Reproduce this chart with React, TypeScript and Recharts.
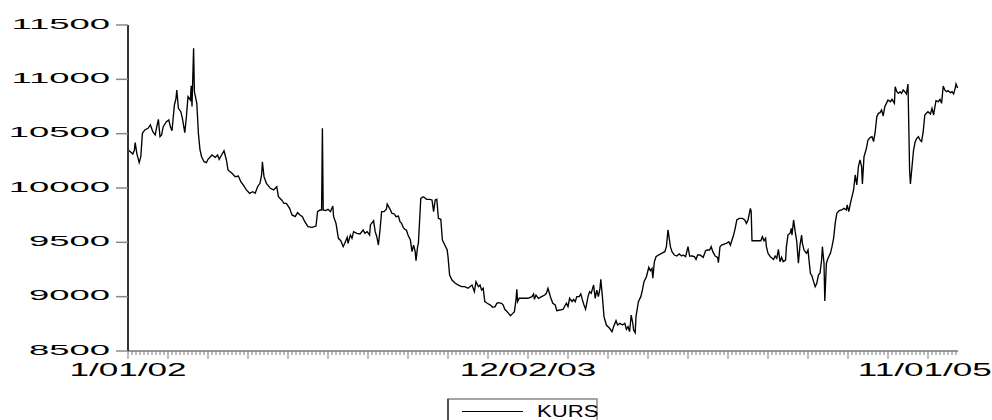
import React from 'react';
import { LineChart, Line, XAxis, YAxis } from 'recharts';

// Daily exchange rate (KURS), indexed by trading day counted from 1/01/02.
const kurs2002: [number, number][] = [
  [0, 10350], [3, 10334], [6, 10313], [8, 10350], [9, 10417], [11, 10319], [14, 10233], [16, 10288],
  [18, 10503], [21, 10534], [25, 10549], [28, 10580], [31, 10518], [34, 10488], [36, 10564], [38, 10632],
  [40, 10472], [42, 10488], [44, 10564], [48, 10610], [51, 10626], [53, 10564], [55, 10527], [58, 10764],
  [60, 10825], [61, 10902], [63, 10733], [66, 10702], [68, 10641], [71, 10509], [73, 10656], [75, 10840],
  [78, 10810], [79, 10940], [80, 10750], [82, 11285], [83, 10886], [86, 10780], [88, 10503], [90, 10350],
  [92, 10288], [95, 10242], [98, 10233], [100, 10264], [105, 10304], [109, 10282], [112, 10304], [114, 10264],
  [117, 10304], [120, 10343], [123, 10258], [125, 10166], [130, 10135], [134, 10104], [138, 10110], [141, 10058],
  [144, 10028], [148, 9982], [152, 9951], [156, 9966], [159, 9951], [162, 10012], [165, 10043], [167, 10120],
  [168, 10242], [170, 10104], [173, 10043], [178, 9997], [182, 9982], [186, 10012], [188, 9920], [192, 9890],
  [195, 9859], [198, 9859], [202, 9813], [205, 9752], [209, 9736], [212, 9773], [215, 9752], [218, 9736],
  [221, 9690], [225, 9644], [230, 9638], [235, 9650], [237, 9782], [240, 9798], [242, 9798], [243, 10549],
  [244, 9798], [247, 9792], [250, 9804], [253, 9782], [256, 9834], [257, 9736], [260, 9675],
];

const kurs2003: [number, number][] = [
  [263, 9537], [266, 9515], [269, 9460], [271, 9491], [274, 9546], [275, 9491], [278, 9567], [280, 9537],
  [282, 9598], [286, 9583], [290, 9577], [294, 9613], [296, 9583], [299, 9598], [302, 9567], [303, 9660],
  [307, 9699], [309, 9598], [311, 9552], [313, 9475], [315, 9613], [317, 9782], [320, 9782], [323, 9804],
  [324, 9853], [327, 9813], [330, 9767], [333, 9761], [335, 9736], [338, 9742], [340, 9690], [342, 9675],
  [344, 9638], [346, 9620], [348, 9613], [350, 9567], [353, 9521], [355, 9414], [357, 9475], [359, 9414],
  [360, 9331], [362, 9460], [363, 9491], [365, 9767], [366, 9905], [369, 9920], [371, 9911], [373, 9896],
  [377, 9896], [380, 9890], [382, 9782], [384, 9890], [386, 9896], [388, 9721], [391, 9712], [393, 9521],
  [396, 9475], [399, 9429], [400, 9368], [402, 9199], [405, 9153], [409, 9123], [413, 9107], [417, 9092],
  [421, 9092], [425, 9077], [430, 9107], [433, 9046], [435, 9138], [438, 9092], [440, 9107], [442, 9061],
  [444, 9077], [446, 8954], [449, 8939], [453, 8923], [456, 8902], [459, 8908], [461, 8939], [463, 8945],
  [467, 8939], [469, 8923], [471, 8884], [475, 8853], [478, 8825], [481, 8846], [483, 8862], [485, 8970],
  [486, 9068], [487, 8954], [489, 8985], [492, 8985], [496, 8985], [500, 8985], [505, 9000], [507, 9025],
  [508, 8975], [510, 9015], [513, 8985], [517, 9000],
];

const kurs2004: [number, number][] = [
  [521, 9015], [523, 9031], [525, 9077], [528, 9000], [531, 8939], [534, 8923], [536, 8871], [540, 8877],
  [544, 8884], [546, 8914], [548, 8939], [550, 8908], [552, 8985], [555, 8954], [557, 8975], [559, 8954],
  [561, 9000], [564, 9000], [566, 9025], [568, 8970], [570, 8923], [572, 8884], [575, 9000], [577, 9046],
  [579, 9031], [582, 9107], [584, 8985], [586, 9061], [588, 9000], [590, 9077], [591, 9160], [593, 9000],
  [595, 8816], [598, 8739], [602, 8709], [605, 8678], [607, 8724], [610, 8779], [612, 8739], [615, 8755],
  [618, 8739], [621, 8755], [623, 8700], [625, 8724], [627, 8678], [629, 8831], [631, 8755], [632, 8694],
  [634, 8668], [635, 8816], [638, 8954], [641, 9000], [643, 9061], [645, 9138], [648, 9184], [651, 9270],
  [653, 9239], [655, 9260], [656, 9169], [658, 9322], [660, 9368], [663, 9383], [667, 9399], [671, 9414],
  [673, 9460], [675, 9614], [678, 9460], [680, 9414], [683, 9383], [686, 9374], [689, 9393], [692, 9374],
  [694, 9383], [697, 9368], [700, 9460], [702, 9374], [705, 9374], [708, 9368], [710, 9343], [712, 9383],
  [715, 9383], [719, 9362], [722, 9423], [724, 9429], [727, 9429], [729, 9460], [731, 9414], [734, 9374],
  [737, 9362], [738, 9312], [740, 9460], [742, 9475], [745, 9484], [748, 9491], [751, 9506], [753, 9475],
  [755, 9521], [757, 9567], [759, 9629], [761, 9706], [764, 9721], [768, 9721], [771, 9706], [773, 9675],
  [775, 9706], [778, 9813], [779, 9782], [780, 9515],
];

const kurs2005: [number, number][] = [
  [784, 9515], [788, 9515], [791, 9515], [793, 9552], [795, 9515], [797, 9537], [798, 9460], [800, 9399],
  [803, 9368], [807, 9343], [809, 9374], [811, 9353], [813, 9436], [815, 9322], [817, 9362], [819, 9322],
  [822, 9337], [823, 9460], [825, 9567], [828, 9589], [829, 9629], [830, 9567], [832, 9706], [834, 9598],
  [836, 9506], [838, 9307], [840, 9475], [842, 9567], [843, 9491], [845, 9429], [848, 9399], [850, 9429],
  [851, 9353], [853, 9215], [855, 9190], [857, 9138], [859, 9092], [861, 9123], [863, 9199], [865, 9215],
  [867, 9337], [868, 9460], [870, 9307], [871, 8960], [873, 9307], [875, 9353], [878, 9399], [880, 9460],
  [882, 9537], [884, 9675], [886, 9767], [889, 9792], [892, 9798], [895, 9813], [898, 9798], [899, 9844],
  [901, 9782], [903, 9859], [905, 9920], [907, 9982], [909, 10120], [911, 10028], [913, 10196], [915, 10258],
  [917, 10196], [918, 10037], [920, 10288], [923, 10365], [925, 10442], [928, 10466], [930, 10472], [932, 10427],
  [934, 10518], [936, 10656], [938, 10687], [940, 10693], [942, 10718], [944, 10663], [946, 10748], [948, 10779],
  [950, 10810], [953, 10794], [955, 10816], [958, 10779], [959, 10932], [961, 10886], [963, 10871], [965, 10886],
  [967, 10871], [969, 10902], [971, 10886], [973, 10865], [975, 10957], [976, 10564], [977, 10166], [978, 10037],
  [980, 10196], [982, 10350], [984, 10427], [986, 10457], [988, 10472], [990, 10442], [992, 10427], [994, 10518],
  [996, 10672], [998, 10687], [1000, 10702], [1003, 10681], [1005, 10733], [1007, 10672], [1008, 10718], [1010, 10804],
  [1013, 10794], [1015, 10816], [1017, 10779], [1019, 10939], [1021, 10902], [1023, 10886], [1025, 10896], [1028, 10877],
  [1030, 10886], [1032, 10865], [1034, 10917], [1035, 10957], [1037, 10920],
];

const seriesName = 'KURS';
const yTicks = [8500, 9000, 9500, 10000, 10500, 11000, 11500];
const dateLabels = ['1/01/02', '12/02/03', '11/01/05'];
const dateLabelDays = [0, 500, 996];
const lastDay = 1037.5;

const data = [...kurs2002, ...kurs2003, ...kurs2004, ...kurs2005].map(([day, kurs]) => ({ day, kurs }));

// small ticks every 5 trading days, long ones every 50
const gridDays: number[] = [];
for (let d = 0; d <= lastDay; d += 5) gridDays.push(d);
const xTickDays = Array.from(new Set([...gridDays, ...dateLabelDays])).sort((a, b) => a - b);

const FONT = '"Liberation Sans", Arial, sans-serif';

const YTick = (props: any) => {
  const { x, y, payload } = props;
  return (
    <g transform={`translate(${x},${y + 3.5}) scale(2.6,1)`}>
      <text x={0} y={0} textAnchor="end" fontSize={14} fill="#000" fontFamily={FONT}>
        {payload.value}
      </text>
    </g>
  );
};

const XTick = (props: any) => {
  const { x, y, payload } = props;
  const day = payload.value as number;
  const labelIdx = dateLabelDays.indexOf(day);
  const onGrid = day % 5 === 0;
  const major = day % 50 === 0;
  return (
    <g>
      {onGrid && (
        <line x1={x} x2={x} y1={y} y2={y + (major ? 8 : 4)} stroke="#777" strokeWidth={1} />
      )}
      {labelIdx >= 0 && (
        <g transform={`translate(${x},${y + 25}) scale(1.95,1)`}>
          <text x={0} y={0} textAnchor="middle" fontSize={18} fill="#000" fontFamily={FONT}>
            {dateLabels[labelIdx]}
          </text>
        </g>
      )}
    </g>
  );
};

export default function App() {
  return (
    <div style={{ position: 'absolute', left: 0, top: 0, width: 992, height: 420, background: '#fff' }}>
      <LineChart width={992} height={420} data={data} margin={{ top: 25, right: 34, bottom: 0, left: 0 }}>
        <XAxis
          dataKey="day"
          type="number"
          domain={[0, lastDay]}
          ticks={xTickDays}
          interval={0}
          tick={<XTick />}
          tickLine={false}
          tickSize={0}
          tickMargin={0}
          height={69}
          axisLine={{ stroke: '#777', strokeWidth: 1.5 }}
        />
        <XAxis
          xAxisId="top"
          orientation="top"
          dataKey="day"
          type="number"
          domain={[0, lastDay]}
          height={0}
          tick={false}
          tickLine={false}
          axisLine={{ stroke: '#777', strokeWidth: 2 }}
        />
        <YAxis
          type="number"
          domain={[8500, 11500]}
          ticks={yTicks}
          interval={0}
          width={128}
          tickSize={12}
          tickMargin={6}
          tick={<YTick />}
          tickLine={{ stroke: '#888', strokeWidth: 1.5 }}
          axisLine={{ stroke: '#333', strokeWidth: 2 }}
        />
        <YAxis
          yAxisId="right"
          orientation="right"
          type="number"
          domain={[8500, 11500]}
          width={0}
          tick={false}
          tickLine={false}
          axisLine={{ stroke: '#000', strokeWidth: 2 }}
        />
        <Line
          dataKey="kurs"
          name={seriesName}
          type="linear"
          stroke="#000"
          strokeWidth={1.35}
          dot={false}
          activeDot={false}
          isAnimationActive={false}
        />
      </LineChart>
      <svg width={992} height={420} style={{ position: 'absolute', left: 0, top: 0, pointerEvents: 'none' }}>
        <rect x={448} y={399} width={149} height={40} fill="none" stroke="#888" strokeWidth={1.5} />
        <line x1={448} x2={448} y1={399} y2={420} stroke="#333" strokeWidth={1.5} />
        <line x1={462} x2={523} y1={411.5} y2={411.5} stroke="#000" strokeWidth={1} />
        <g transform="translate(537,416.5) scale(1.3,1)">
          <text x={0} y={0} fontSize={17} fill="#000" fontFamily={FONT}>
            {seriesName}
          </text>
        </g>
      </svg>
    </div>
  );
}
